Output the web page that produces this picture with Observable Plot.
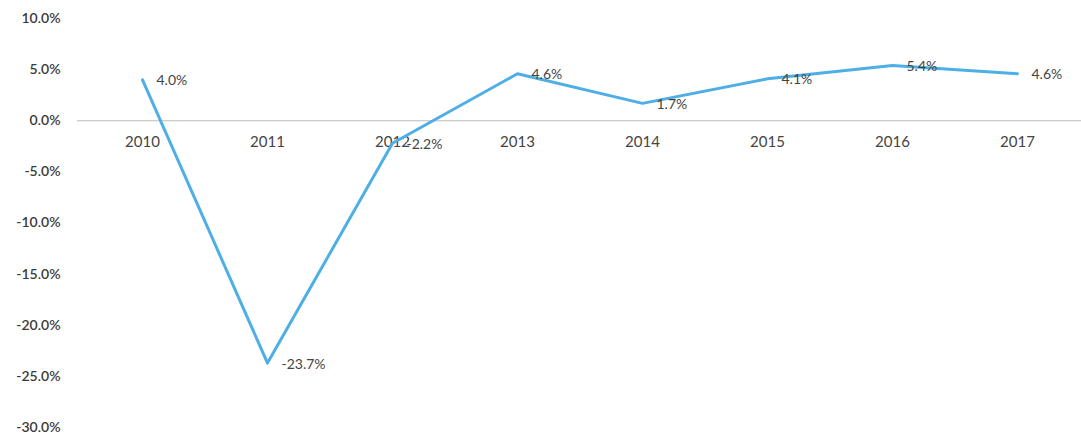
<!DOCTYPE html>
<html>
<head>
<meta charset="utf-8">
<script src="https://cdn.jsdelivr.net/npm/d3@7"></script>
<script src="https://cdn.jsdelivr.net/npm/@observablehq/plot@0.6"></script>
<style>
  body { margin: 0; background: #fff; }
  #chart svg { display: block; }
</style>
</head>
<body>
<div id="chart"></div>
<script>
const years = ["2010", "2011", "2012", "2013", "2014", "2015", "2016", "2017"];
const growth = [4.0, -23.7, -2.2, 4.6, 1.7, 4.1, 5.4, 4.6];
const labels = ["4.0%", "-23.7%", "-2.2%", "4.6%", "1.7%", "4.1%", "5.4%", "4.6%"];
const yTicks = [10, 5, 0, -5, -10, -15, -20, -25, -30];

const data = years.map((year, i) => ({year, value: growth[i], label: labels[i]}));

const chart = Plot.plot({
  width: 1081,
  height: 436,
  marginLeft: 77,
  marginRight: 0,
  marginTop: 18,
  marginBottom: 9,
  style: {fontFamily: "Lato, 'Open Sans', sans-serif", background: "#fff"},
  x: {type: "point", domain: years, padding: 0.5, axis: null},
  y: {domain: [-30, 10], ticks: yTicks, tickFormat: d => d.toFixed(1) + "%"},
  marks: [
    Plot.axisY({ticks: yTicks, tickFormat: d => d.toFixed(1) + "%", tickSize: 0, tickPadding: 17,
      fontSize: 14, fontWeight: 600, fill: "#3a3a3a", label: null}),
    Plot.ruleY([0], {stroke: "#bdbdbd", strokeWidth: 1}),
    Plot.text(data, {x: "year", y: () => 0, text: "year", dy: 21, fontSize: 15, fill: "#444"}),
    Plot.line(data, {x: "year", y: "value", stroke: "#4eaee6", strokeWidth: 3}),
    Plot.text(data, {x: "year", y: "value", text: "label", textAnchor: "start", dx: 14, dy: 1,
      fontSize: 14, fill: "#444"})
  ]
});
document.getElementById("chart").appendChild(chart);
</script>
</body>
</html>
